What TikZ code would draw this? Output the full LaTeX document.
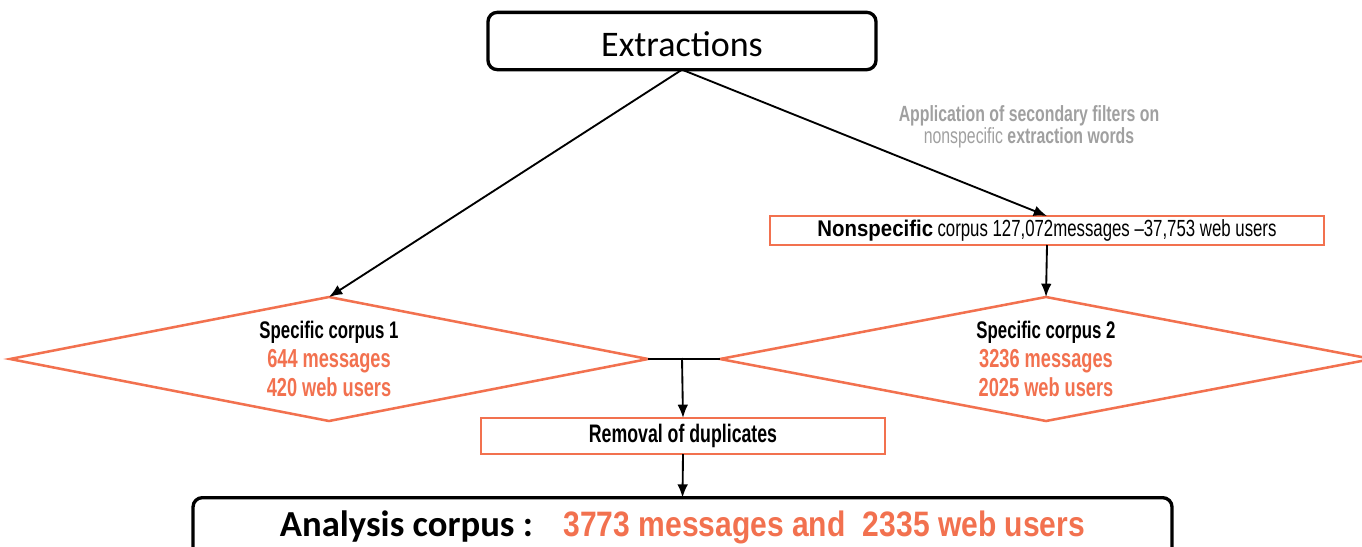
\documentclass[tikz,border=0pt]{standalone}
\usepackage{fontspec}
\usetikzlibrary{shapes.geometric,arrows.meta}
\newfontfamily\cond[FakeStretch=0.72]{Liberation Sans}
\newfontfamily\cb[FakeStretch=0.7]{Liberation Sans Bold}
\newfontfamily\cn[FakeStretch=0.72]{Liberation Sans}
\newfontfamily\co[FakeStretch=0.85]{Liberation Sans Bold}
\newfontfamily\arb[FakeStretch=0.9]{Liberation Sans Bold}
\newfontfamily\calib{Carlito}
\definecolor{orng}{HTML}{F2714F}
\definecolor{gry}{HTML}{A0A0A0}
\begin{document}
\begin{tikzpicture}[x=0.75pt,y=-0.75pt,
  blackbox/.style={draw=black, line width=2.5pt, rounded corners=7pt, inner sep=0pt, outer sep=0pt},
  orbox/.style={draw=orng, line width=1.4pt, inner sep=0pt, outer sep=0pt},
  dia/.style={diamond, draw=orng, line width=1.9pt, aspect=5.1, inner sep=0pt, outer sep=0pt, align=center, font=\cb\fontsize{19.5}{21.5}\selectfont},
  conn/.style={line width=1.4pt, -{Latex[length=10pt,width=8pt]}},
  plain/.style={line width=1.4pt}]
\useasboundingbox (0,0) rectangle (1362,546);
\node[blackbox, minimum width=291pt, minimum height=43pt, text height=23.4pt, text depth=0pt] (ext) at (682,41)
  {\calib\fontsize{27}{30}\selectfont Extractions};
\node[gry, align=center, font=\cond\fontsize{16.5}{16.5}\selectfont] (lbl) at (1029,127)
  {\textbf{Application of secondary filters on}\\ nonspecific \textbf{extraction words}};
\node[orbox, minimum width=415.5pt, minimum height=21.75pt] (ns) at (1047,230.5)
  {{\arb\fontsize{17}{19}\selectfont Nonspecific} {\cn\fontsize{17.5}{19}\selectfont corpus 127,072messages –37,753 web users}\hspace{10pt}};
\node[dia, minimum width=478.5pt, minimum height=93pt] (d1) at (329,359)
  {{\fontsize{18}{21.5}\selectfont Specific corpus 1}\\
   \color{orng}644 messages\\
   \color{orng}420 web users};
\node[dia, minimum width=489pt, minimum height=93pt] (d2) at (1046,359)
  {{\fontsize{18}{21.5}\selectfont Specific corpus 2}\\
   \color{orng}3236 messages\\
   \color{orng}2025 web users};
\coordinate (j) at (682,358);
\node[orbox, minimum width=303pt, minimum height=27pt] (rem) at (683,436)
  {\cb\fontsize{19}{21}\selectfont Removal of duplicates};
\node[blackbox, minimum width=734.25pt, minimum height=44pt] (ana) at (682.5,527)
  {{\calib\bfseries\fontsize{27.5}{30}\selectfont Analysis corpus :}\hspace{23pt}{\color{orng}\co\fontsize{26.5}{30}\selectfont 3773 messages and\hspace{13pt}2335 web users}};
\draw[conn] (ext.south) -- (d1.north);
\draw[conn] (ext.south) -- (ns.north);
\draw[conn] (ns.south) -- (d2.north);
\draw[plain] (d1.east) -- (d2.west);
\draw[conn] (j) -- (rem.north);
\draw[conn] (rem.south) -- (ana.north);
\end{tikzpicture}
\end{document}
